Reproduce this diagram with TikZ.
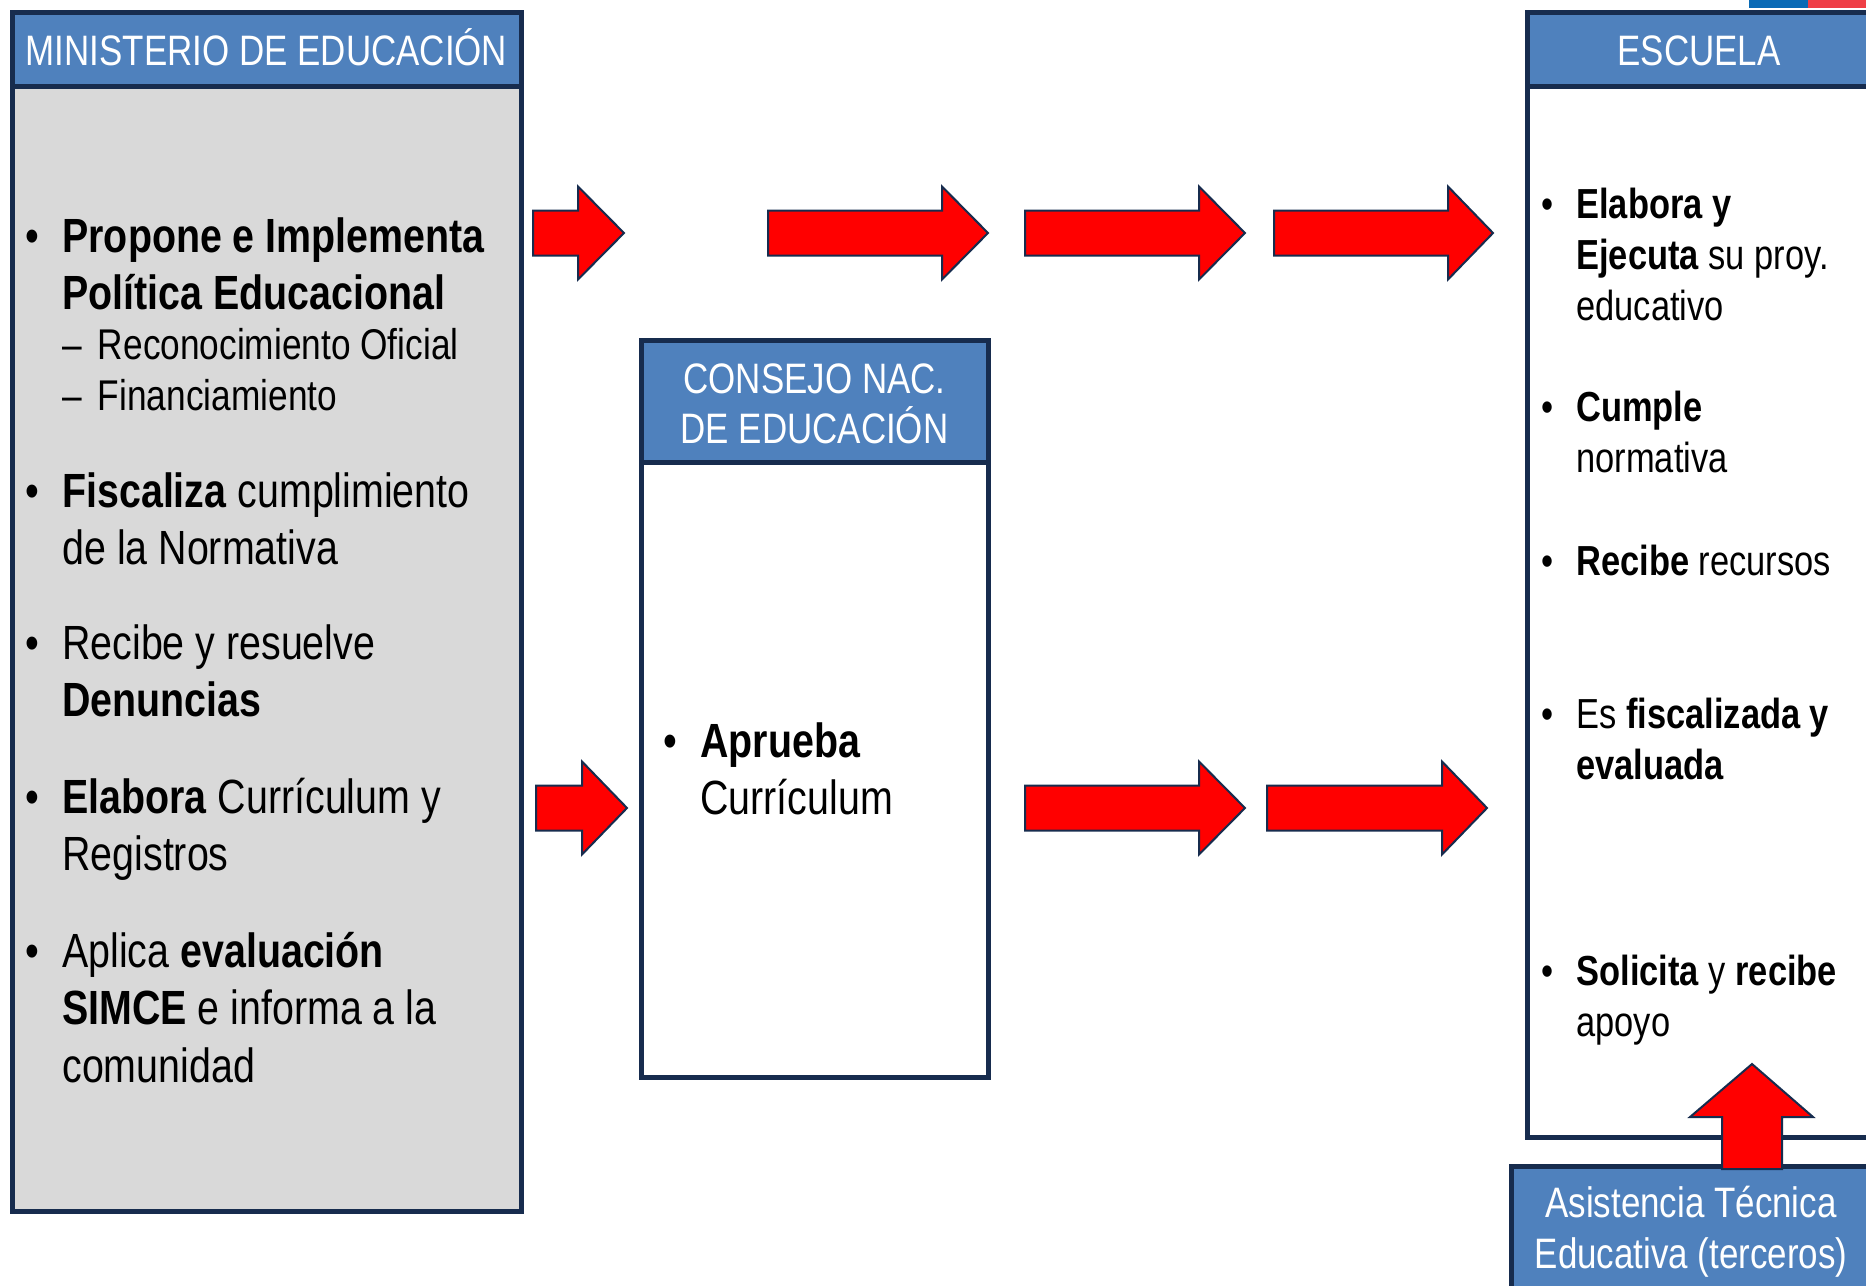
\documentclass[tikz,border=0pt]{standalone}
\usepackage{fontspec}
\setmainfont{Liberation Sans}[FakeStretch=0.82]
\usetikzlibrary{positioning}

\definecolor{navy}{HTML}{172C4E}
\definecolor{hdrblue}{HTML}{4F81BD}
\definecolor{boxgray}{HTML}{D9D9D9}
\definecolor{flagblue}{HTML}{0A6AB5}
\definecolor{flagred}{HTML}{EF3F46}
\newcommand{\bul}{\llap{\textbullet\hspace{11.5pt}}}
\newcommand{\subdash}{–\hspace{8pt}}

\begin{document}
\begin{tikzpicture}[x=0.5pt, y=-0.5pt,
    frame/.style={draw=navy, line width=2.5pt},
    hdr/.style={frame, fill=hdrblue},
    blockarr/.style={draw=navy, line width=1pt, fill=red, line join=miter},
    bigtxt/.style={anchor=base west, align=left, inner sep=0pt, font=\fontsize{24}{28.75}\selectfont},
    smalltxt/.style={anchor=base west, align=left, inner sep=0pt, font=\fontsize{21}{25.5}\selectfont},
    hdrtxt/.style={anchor=base, align=center, inner sep=0pt, text=white, font=\fontsize{21.3}{25}\selectfont}]
    \useasboundingbox (0,0) rectangle (1866,1285);
    \clip (0,0) rectangle (1866,1285);
    \fill[flagblue] (1749,0) rectangle (1808,8);
    \fill[flagred] (1808,0) rectangle (1866,8);

    % ministerio (node positions = baseline of last line)
    \draw[frame, fill=boxgray] (12,12) rectangle (521,1211);
    \draw[hdr] (12,12) rectangle (521,86);
    \node[hdrtxt] (minhdr) at (266.5,65) {MINISTERIO DE EDUCACIÓN};
    \node[bigtxt] (min1) at (62,309.5) {\bul\textbf{Propone e Implementa}\\\textbf{Política Educacional}};
    \node[smalltxt, font=\fontsize{21.5}{25.5}\selectfont] (min1sub) at (62,410) {\subdash Reconocimiento Oficial\\\subdash Financiamiento};
    \node[bigtxt] (min2) at (62,564.5) {\bul\textbf{Fiscaliza} cumplimiento\\de la Normativa};
    \node[bigtxt] (min3) at (62,716.5) {\bul Recibe y resuelve\\\textbf{Denuncias}};
    \node[bigtxt] (min4) at (62,870.5) {\bul\textbf{Elabora} Currículum y\\Registros};
    \node[bigtxt] (min5) at (62,1082) {\bul Aplica \textbf{evaluación}\\\textbf{SIMCE} e informa a la\\comunidad};

    % consejo
    \draw[frame, fill=white] (641,340) rectangle (988,1077);
    \draw[hdr] (641,340) rectangle (988,462);
    \node[hdrtxt] (conhdr) at (814.5,443) {CONSEJO NAC.\\DE EDUCACIÓN};
    \node[bigtxt] (con1) at (700,814.5) {\bul\textbf{Aprueba}\\Currículum};

    % escuela
    \draw[frame, fill=white] (1527,12) rectangle (1875,1137);
    \draw[hdr] (1527,12) rectangle (1875,86);
    \node[hdrtxt] (eschdr) at (1699,65) {ESCUELA};
    \node[smalltxt] (esc1) at (1576,320) {\bul\textbf{Elabora y}\\\textbf{Ejecuta} su proy.\\educativo};
    \node[smalltxt] (esc2) at (1576,472) {\bul\textbf{Cumple}\\normativa};
    \node[smalltxt] (esc3) at (1576,575) {\bul\textbf{Recibe} recursos};
    \node[smalltxt] (esc4) at (1576,779) {\bul Es \textbf{fiscalizada y}\\\textbf{evaluada}};
    \node[smalltxt] (esc5) at (1576,1036) {\bul\textbf{Solicita} y \textbf{recibe}\\apoyo};

    % asistencia
    \draw[hdr] (1511,1166) rectangle (1880,1300);
    \node[hdrtxt, font=\fontsize{21.3}{25.5}\selectfont] (ate) at (1691,1268) {Asistencia Técnica\\Educativa (terceros)};

    % flechas
    \foreach \a/\b/\c/\y in {533/578/624/233, 768/942/988/233, 1025/1199/1245/233, 1274/1448/1493/233,
                             536/582/627/808, 1025/1199/1245/808, 1267/1442/1487/808}
        \draw[blockarr] (\a,\y-22.5) -- (\b,\y-22.5) -- (\b,\y-46.5) -- (\c,\y)
            -- (\b,\y+46.5) -- (\b,\y+22.5) -- (\a,\y+22.5) -- cycle;
    \draw[blockarr] (1722,1169) -- (1722,1117) -- (1690,1117) -- (1752,1064)
        -- (1813,1117) -- (1782,1117) -- (1782,1169) -- cycle;
\end{tikzpicture}
\end{document}
